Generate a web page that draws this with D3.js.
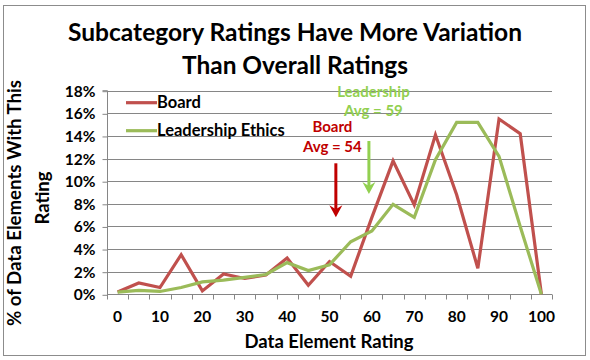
<!DOCTYPE html>
<html>
<head>
<meta charset="utf-8">
<script src="https://cdn.jsdelivr.net/npm/d3@7"></script>
<style>
  html, body { margin: 0; padding: 0; background: #fff; }
  svg { display: block; font-family: Lato, "Open Sans", sans-serif; font-weight: bold; }
</style>
</head>
<body>
<svg id="chart" width="590" height="360"></svg>
<script>
// ---- data ----
const ratings = [0,5,10,15,20,25,30,35,40,45,50,55,60,65,70,75,80,85,90,95,100];
const xTickLabels = [0,10,20,30,40,50,60,70,80,90,100];
const yTicks = [0,2,4,6,8,10,12,14,16,18];
const boardValues = [0.2,1.0,0.6,3.5,0.3,1.8,1.4,1.7,3.2,0.8,2.9,1.6,6.8,11.8,7.9,14.1,8.8,2.3,15.5,14.2,0.0];
const leadershipValues = [0.2,0.35,0.25,0.6,1.1,1.25,1.5,1.75,2.8,2.1,2.6,4.65,5.6,7.95,6.8,11.9,15.2,15.2,12.2,6.0,0.0];
const seriesNames = ["Board","Leadership Ethics"];
const seriesColors = ["#C0504D","#9BBB59"];
const annotationLines = [["Board","Avg = 54"],["Leadership","Avg = 59"]];
const annotationColors = ["#C00000","#92D050"];
// rating value where each arrow sits
const annotationRatings = [51.5, 59.3];

const svg = d3.select("#chart");

// outer border
svg.append("rect").attr("x",3.5).attr("y",5.5).attr("width",582).attr("height",350)
  .attr("fill","#fff").attr("stroke","#8c8c8c").attr("stroke-width",1);

const plot = {left:107, right:552, top:90.7, bottom:294.3};

const xBand = d3.scaleBand().domain(ratings).range([plot.left, plot.right]).padding(0);
const xc = r => xBand(r) + xBand.bandwidth()/2;
const xLin = d3.scaleLinear().domain([0,100]).range([xc(0), xc(100)]);
const y = d3.scaleLinear().domain([0,18]).range([plot.bottom, plot.top]);

// gridlines
svg.append("g").selectAll("line").data(yTicks.filter(d=>d>0)).join("line")
  .attr("x1",plot.left).attr("x2",plot.right)
  .attr("y1",d=>Math.round(y(d))+0.5).attr("y2",d=>Math.round(y(d))+0.5)
  .attr("stroke","#868686").attr("stroke-width",1);

// y axis
const yAxis = d3.axisLeft(y).tickValues(yTicks).tickFormat(d=>d+"%").tickSize(5).tickPadding(7);
const gy = svg.append("g").attr("transform",`translate(${plot.left+0.5},0.5)`).call(yAxis);
gy.select(".domain").attr("stroke","#868686").attr("d",`M-5,${plot.top-0.5}H0V${plot.bottom}`);
gy.selectAll(".tick line").attr("stroke","#868686");
gy.selectAll(".tick text").attr("font-size",15.5).attr("font-weight","bold").attr("fill","#000")
  .attr("font-family","Lato, sans-serif");

// x axis (ticks between categories)
const xAxisG = svg.append("g").attr("transform",`translate(0,${Math.round(plot.bottom)+0.5})`);
xAxisG.append("line").attr("x1",plot.left).attr("x2",plot.right).attr("stroke","#868686");
const tickPositions = ratings.map(r=>xBand(r)).concat([plot.right]);
xAxisG.selectAll("line.tk").data(tickPositions).join("line").attr("class","tk")
  .attr("x1",d=>Math.round(d)+0.5).attr("x2",d=>Math.round(d)+0.5).attr("y1",0).attr("y2",5)
  .attr("stroke","#868686");
xAxisG.selectAll("text").data(xTickLabels).join("text")
  .attr("x",d=>xc(d)).attr("y",27).attr("text-anchor","middle")
  .attr("font-size",15.5).text(d=>d);

// lines
const line = d3.line().x((d,i)=>xc(ratings[i])).y(d=>y(d));
[boardValues, leadershipValues].forEach((vals,i)=>{
  svg.append("path").datum(vals).attr("d",line).attr("fill","none")
    .attr("stroke",seriesColors[i]).attr("stroke-width",3.2).attr("stroke-linejoin","miter");
});

// legend
const lg = svg.append("g");
seriesNames.forEach((n,i)=>{
  const ly = 102.7 + i*28;
  lg.append("line").attr("x1",126).attr("x2",157).attr("y1",ly).attr("y2",ly)
    .attr("stroke",seriesColors[i]).attr("stroke-width",3.2);
  lg.append("text").attr("x",157).attr("y",ly+5.5).attr("font-size",16.5).text(n);
});

// annotations
const annBase = [[131.7,151.7],[96.7,116]];
const arrowSpan = [[163.3,217.3],[141,194]];
annotationLines.forEach((lines,i)=>{
  const ax = xLin(annotationRatings[i]);
  const tx = i===0 ? ax-3.5 : ax+4.5;
  lines.forEach((t,j)=>{
    svg.append("text").attr("x",tx).attr("y",annBase[i][j]).attr("text-anchor","middle")
      .attr("font-size",15).attr("fill",annotationColors[i]).text(t);
  });
  const [y0,y1] = arrowSpan[i];
  svg.append("line").attr("x1",ax).attr("x2",ax).attr("y1",y0).attr("y2",y1-8)
    .attr("stroke",annotationColors[i]).attr("stroke-width",3);
  svg.append("path").attr("d",`M${ax-6.5},${y1-12}L${ax},${y1}L${ax+6.5},${y1-12}L${ax},${y1-8}Z`)
    .attr("fill",annotationColors[i]);
});

// title
const title = svg.append("g");
title.append("text").attr("x",295).attr("y",40.7).attr("text-anchor","middle")
  .attr("font-size",24).attr("textLength",454).attr("lengthAdjust","spacingAndGlyphs")
  .text("Subcategory Ratings Have More Variation");
title.append("text").attr("x",295).attr("y",74).attr("text-anchor","middle")
  .attr("font-size",24).attr("textLength",226).attr("lengthAdjust","spacingAndGlyphs")
  .text("Than  Overall Ratings");

// x axis title
svg.append("text").attr("x",329).attr("y",348.3).attr("text-anchor","middle")
  .attr("font-size",18.5).text("Data Element Rating");

// y axis title (two lines)
svg.append("text").attr("transform","translate(21,203) rotate(-90)").attr("text-anchor","middle")
  .attr("font-size",18.5).attr("textLength",246).attr("lengthAdjust","spacingAndGlyphs")
  .text("% of Data Elements With This");
svg.append("text").attr("transform","translate(49,198) rotate(-90)").attr("text-anchor","middle")
  .attr("font-size",18.5).text("Rating");
</script>
</body>
</html>
